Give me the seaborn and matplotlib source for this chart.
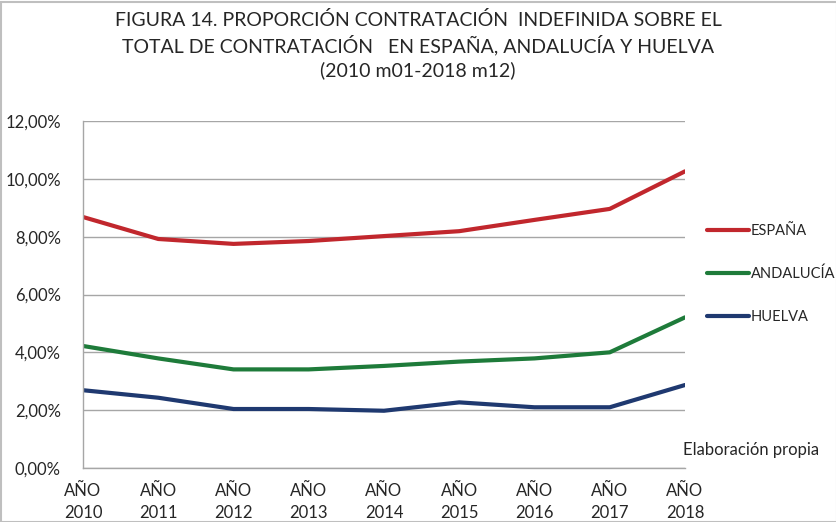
import matplotlib
matplotlib.use("Agg")
import matplotlib.pyplot as plt
import seaborn as sns
import pandas as pd
from matplotlib.ticker import FuncFormatter
from matplotlib.patches import Rectangle
from matplotlib.lines import Line2D

years = ["AÑO\n2010", "AÑO\n2011", "AÑO\n2012", "AÑO\n2013", "AÑO\n2014",
         "AÑO\n2015", "AÑO\n2016", "AÑO\n2017", "AÑO\n2018"]
espana = [8.68, 7.92, 7.75, 7.85, 8.02, 8.19, 8.58, 8.96, 10.26]
andalucia = [4.22, 3.79, 3.41, 3.41, 3.53, 3.68, 3.79, 4.00, 5.21]
huelva = [2.69, 2.43, 2.04, 2.04, 1.98, 2.27, 2.10, 2.10, 2.87]
series_names = ["ESPAÑA", "ANDALUCÍA", "HUELVA"]
colors = ["#C1272D", "#1E7B3A", "#1F3970"]

rows = []
for name, vals in zip(series_names, [espana, andalucia, huelva]):
    for i, (y, v) in enumerate(zip(years, vals)):
        rows.append({"idx": i, "year": y, "serie": name, "valor": v})
df = pd.DataFrame(rows)

sns.set_theme(style="white")
plt.rcParams['font.family'] = ['Lato', 'DejaVu Sans']

fig = plt.figure(figsize=(8.36, 5.22), dpi=100)
ax = fig.add_axes([83/836, 1-468/522, (685-83)/836, (468-121)/522])

sns.lineplot(data=df, x="idx", y="valor", hue="serie", hue_order=series_names,
             palette=dict(zip(series_names, colors)), linewidth=3, ax=ax,
             legend=False)

ax.set_xlim(0, len(years)-1)
ax.set_ylim(0, 12)
ax.set_yticks([0, 2, 4, 6, 8, 10, 12])
ax.yaxis.set_major_formatter(FuncFormatter(lambda v, p: f"{v:.2f}".replace(".", ",") + "%"))
ax.set_xticks(range(len(years)))
ax.set_xticklabels(years, fontsize=12, linespacing=1.45)
ax.tick_params(axis="y", labelsize=12, pad=16, length=0)
ax.tick_params(axis="x", pad=11, length=0)
ax.set_xlabel("")
ax.set_ylabel("")
ax.grid(axis="y", color="#A6A6A6", linewidth=1)
ax.set_axisbelow(True)
for s in ["top", "right"]:
    ax.spines[s].set_visible(False)
for s in ["left", "bottom"]:
    ax.spines[s].set_color("#A6A6A6")
    ax.spines[s].set_linewidth(1)

# legend
handles = [Line2D([0], [0], color=c, lw=3) for c in colors]
leg = fig.legend(handles, series_names, loc="upper left",
                 bbox_to_anchor=(707/836, 1-224/522), frameon=False,
                 borderaxespad=0, borderpad=0,
                 fontsize=10.5, handlelength=2.9, handletextpad=0.1,
                 labelspacing=1.98)

fig.text(683/836, 1-450/522, "Elaboración propia", fontsize=12, va="center", ha="left")

fig.text(0.5, 1-20/522, "FIGURA 14. PROPORCIÓN CONTRATACIÓN  INDEFINIDA SOBRE EL",
         ha="center", va="center", fontsize=14)
fig.text(0.5, 1-45/522, "TOTAL DE CONTRATACIÓN   EN ESPAÑA, ANDALUCÍA Y HUELVA",
         ha="center", va="center", fontsize=14)
fig.text(0.5, 1-70/522, "(2010 m01-2018 m12)", ha="center", va="center", fontsize=14)

fig.patches.append(Rectangle((0.5/836, 0), 1, 1-2/522, transform=fig.transFigure,
                             fill=False, edgecolor="#BFBFBF", linewidth=1.5))

fig.savefig("out.png", dpi=100)
